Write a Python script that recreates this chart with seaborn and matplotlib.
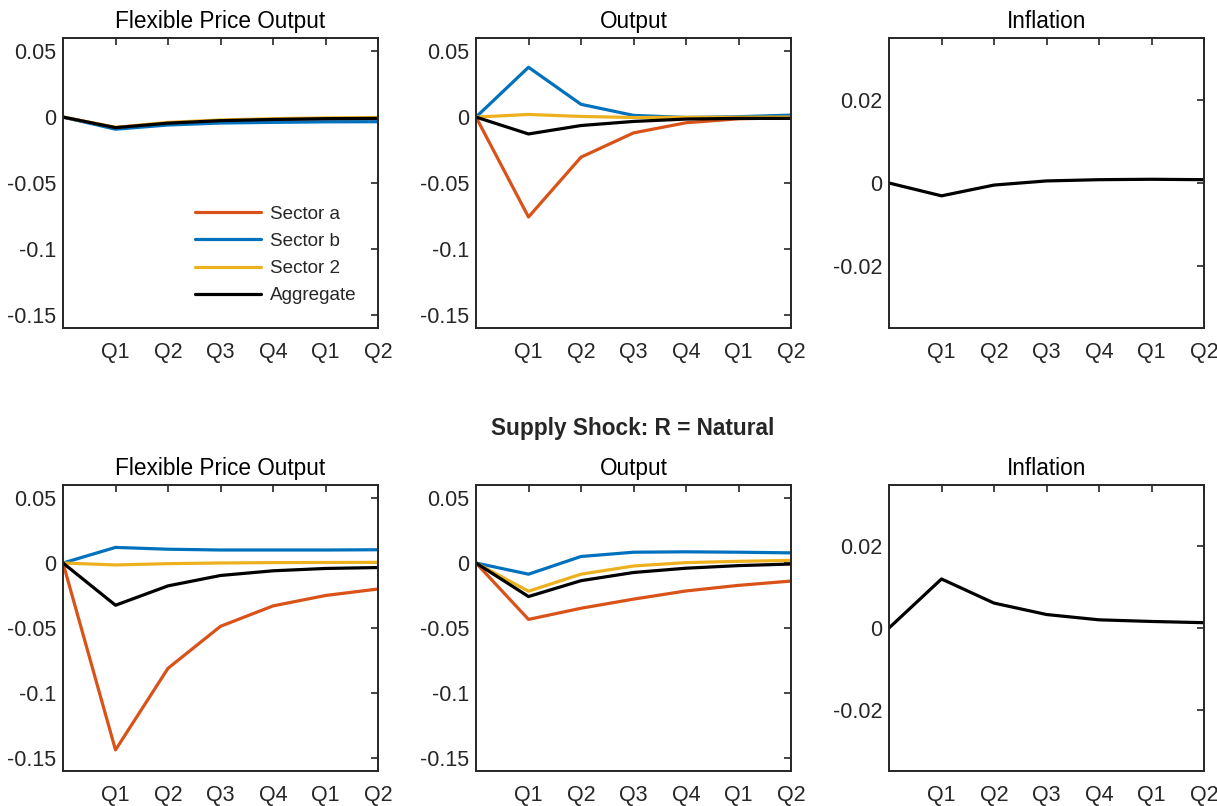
import numpy as np
import pandas as pd
import matplotlib
matplotlib.use("Agg")
import matplotlib.pyplot as plt
import seaborn as sns

# Horizon (quarters after the shock) and tick labels
periods = [0, 1, 2, 3, 4, 5, 6]
quarter_labels = ["Q1", "Q2", "Q3", "Q4", "Q1", "Q2"]
series_names = ["Sector a", "Sector b", "Sector 2", "Aggregate"]

# Top row: flexible price output
top_flex_a = [0, -0.0080, -0.0045, -0.0028, -0.0018, -0.0013, -0.0010]
top_flex_b = [0, -0.0092, -0.0060, -0.0045, -0.0040, -0.0036, -0.0035]
top_flex_2 = [0, -0.0078, -0.0040, -0.0022, -0.0012, -0.0006, -0.0003]
top_flex_agg = [0, -0.0080, -0.0046, -0.0027, -0.0018, -0.0012, -0.0010]

# Top row: output
top_out_a = [0, -0.0758, -0.0304, -0.0120, -0.0043, -0.0013, -0.0005]
top_out_b = [0, 0.0378, 0.0097, 0.0013, -0.0003, 0.0003, 0.0015]
top_out_2 = [0, 0.0020, 0.0005, -0.0003, -0.0002, -0.0001, 0.0000]
top_out_agg = [0, -0.0128, -0.0064, -0.0033, -0.0015, -0.0010, -0.0010]

# Top row: inflation
top_infl = [0, -0.0031, -0.0005, 0.0005, 0.0008, 0.0009, 0.0008]

# Bottom row: flexible price output
bot_flex_a = [0, -0.1438, -0.0810, -0.0487, -0.0330, -0.0250, -0.0200]
bot_flex_b = [0, 0.0120, 0.0106, 0.0100, 0.0100, 0.0100, 0.0102]
bot_flex_2 = [0, -0.0015, -0.0005, 0.0000, 0.0003, 0.0004, 0.0005]
bot_flex_agg = [0, -0.0325, -0.0176, -0.0096, -0.0060, -0.0042, -0.0035]

# Bottom row: output
bot_out_a = [0, -0.0434, -0.0348, -0.0278, -0.0215, -0.0172, -0.0139]
bot_out_b = [0, -0.0086, 0.0050, 0.0083, 0.0086, 0.0083, 0.0078]
bot_out_2 = [0, -0.0217, -0.0086, -0.0023, 0.0003, 0.0013, 0.0020]
bot_out_agg = [0, -0.0258, -0.0136, -0.0073, -0.0040, -0.0020, -0.0008]

# Bottom row: inflation
bot_infl = [0, 0.0120, 0.0061, 0.0033, 0.0020, 0.0016, 0.0013]

out_ticks = [-0.15, -0.1, -0.05, 0, 0.05]
out_tick_labels = ["-0.15", "-0.1", "-0.05", "0", "0.05"]
infl_ticks = [-0.02, 0, 0.02]
infl_tick_labels = ["-0.02", "0", "0.02"]

palette = {"Sector a": "#D95319", "Sector b": "#0072BD",
           "Sector 2": "#EDB120", "Aggregate": "#000000"}

sns.set_style("white")
plt.rcParams["font.family"] = ["Liberation Sans", "DejaVu Sans"]
plt.rcParams["axes.edgecolor"] = "#262626"
plt.rcParams["axes.linewidth"] = 1.4


def long_frame(a, b, s2, agg):
    rows = []
    for name, vals in zip(series_names, [a, b, s2, agg]):
        for t, v in zip(periods, vals):
            rows.append({"t": t, "value": v, "series": name})
    return pd.DataFrame(rows)


def style_axis(ax, ticks, labels, ylim, title):
    ax.set_xlim(0, 6)
    ax.set_ylim(*ylim)
    ax.set_xticks(periods[1:])
    ax.set_xticklabels(quarter_labels)
    ax.set_yticks(ticks)
    ax.set_yticklabels(labels)
    ax.tick_params(axis="both", direction="in", length=5, width=1.2,
                   top=True, right=True, labelsize=15.5, colors="#262626")
    ax.tick_params(axis="x", pad=10)
    ax.tick_params(axis="y", pad=5)
    ax.set_xlabel("")
    ax.set_ylabel("")
    ax.set_title(title, fontsize=16.3, pad=7.5, color="#000000")
    for sp in ax.spines.values():
        sp.set_visible(True)
        sp.set_color("#262626")


fig = plt.figure(figsize=(12.17, 8.06), dpi=100)

W = 315 / 1217
lefts = [63 / 1217, 476 / 1217, 889 / 1217]
row_top = (1 - 328 / 806, 290 / 806)
row_bot = (1 - 771 / 806, 286 / 806)

panels = [
    (row_top, long_frame(top_flex_a, top_flex_b, top_flex_2, top_flex_agg),
     top_infl, True),
    (row_bot, long_frame(bot_flex_a, bot_flex_b, bot_flex_2, bot_flex_agg),
     bot_infl, False),
]
output_frames = [
    long_frame(top_out_a, top_out_b, top_out_2, top_out_agg),
    long_frame(bot_out_a, bot_out_b, bot_out_2, bot_out_agg),
]

for (row, flex_df, infl, with_legend), out_df in zip(panels, output_frames):
    y0, h = row
    ax1 = fig.add_axes([lefts[0], y0, W, h])
    sns.lineplot(data=flex_df, x="t", y="value", hue="series",
                 hue_order=series_names, palette=palette, linewidth=2.3,
                 ax=ax1, legend=with_legend)
    style_axis(ax1, out_ticks, out_tick_labels, (-0.16, 0.06),
               "Flexible Price Output")
    if with_legend:
        leg = ax1.legend(loc="lower right", bbox_to_anchor=(0.955, 0.055),
                         frameon=False, fontsize=13.6, handlelength=3.5,
                         handletextpad=0.45, labelspacing=0.53,
                         borderaxespad=0)
        for line in leg.get_lines():
            line.set_linewidth(2.3)

    ax2 = fig.add_axes([lefts[1], y0, W, h])
    sns.lineplot(data=out_df, x="t", y="value", hue="series",
                 hue_order=series_names, palette=palette, linewidth=2.3,
                 ax=ax2, legend=False)
    style_axis(ax2, out_ticks, out_tick_labels, (-0.16, 0.06), "Output")

    ax3 = fig.add_axes([lefts[2], y0, W, h])
    sns.lineplot(x=periods, y=infl, color="#000000", linewidth=2.3, ax=ax3)
    style_axis(ax3, infl_ticks, infl_tick_labels, (-0.035, 0.035),
               "Inflation")

fig.text(633 / 1217, 1 - 428 / 806, "Supply Shock: R = Natural",
         ha="center", va="center", fontsize=16.3, fontweight="bold")

fig.savefig("out.png", dpi=100)
